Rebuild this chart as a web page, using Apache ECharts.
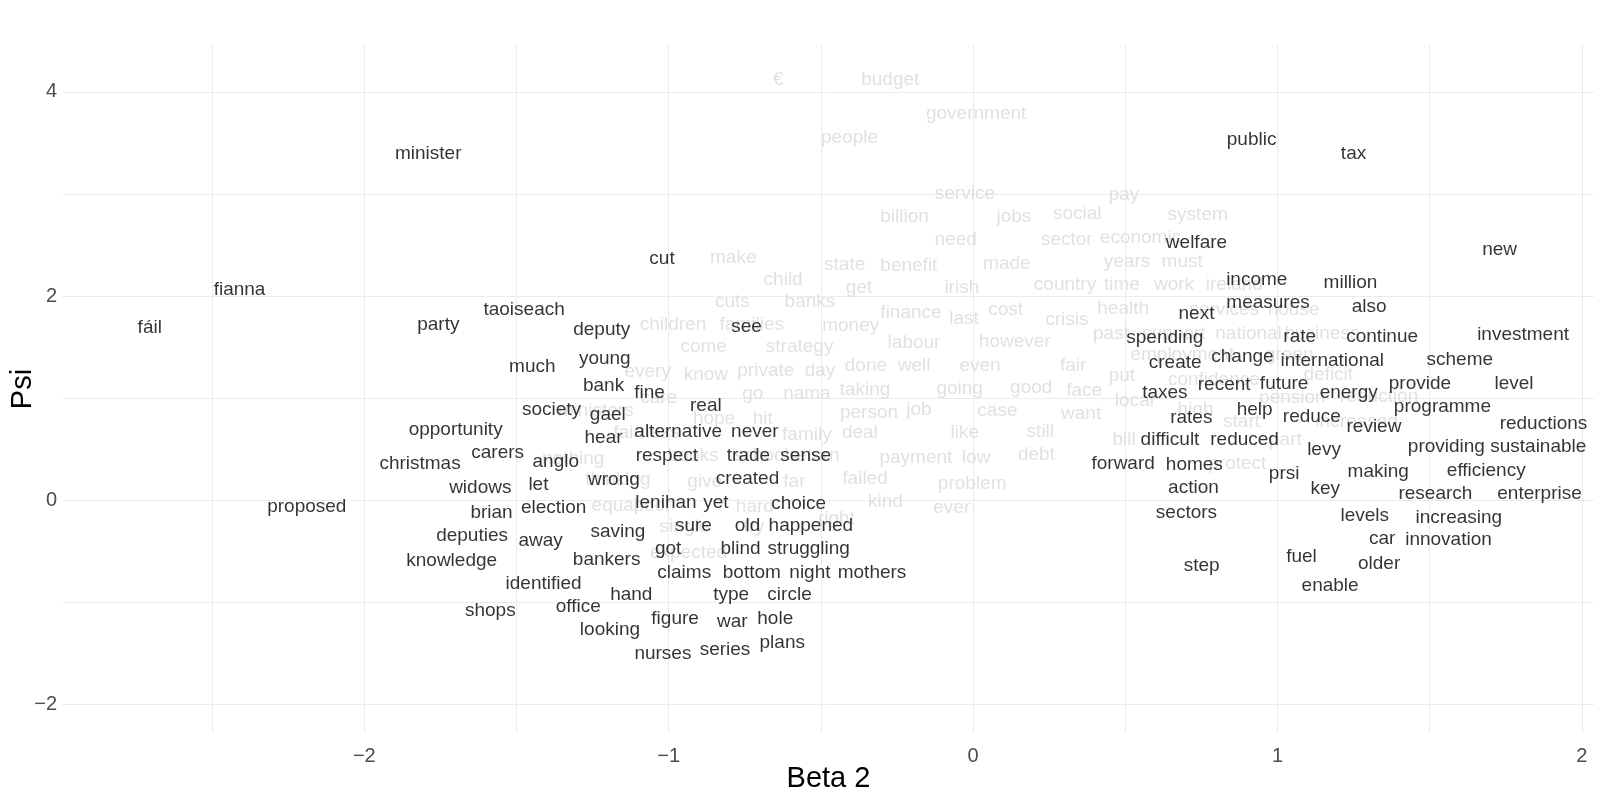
<!DOCTYPE html>
<html>
<head>
<meta charset="utf-8">
<script src="https://cdn.jsdelivr.net/npm/echarts@6/dist/echarts.min.js"></script>
<style>
  html, body { margin: 0; padding: 0; background: #fff; }
  #chart { width: 1600px; height: 800px; }
</style>
</head>
<body>
<div id="chart"></div>
<script type="text/javascript">
    // words shown in black (beta, psi)
    var blackWords = ['minister', 'fianna', 'fáil', 'party', 'taoiseach', 'cut', 'public', 'tax', 'new', 'welfare',
        'income', 'million', 'measures', 'also', 'next', 'spending', 'rate', 'continue', 'investment', 'change',
        'create', 'international', 'scheme', 'taxes', 'recent', 'future', 'energy', 'provide', 'level', 'help',
        'programme', 'rates', 'reduce', 'review', 'reductions', 'difficult', 'reduced', 'levy', 'providing', 'sustainable',
        'forward', 'homes', 'prsi', 'making', 'efficiency', 'action', 'key', 'research', 'enterprise', 'sectors',
        'levels', 'increasing', 'car', 'innovation', 'step', 'fuel', 'older', 'enable',
        'deputy', 'see', 'much', 'young', 'bank', 'fine', 'real', 'society', 'gael', 'opportunity',
        'hear', 'alternative', 'never', 'christmas', 'carers', 'anglo', 'respect', 'trade', 'sense', 'widows',
        'let', 'wrong', 'created', 'proposed', 'brian', 'election', 'lenihan', 'yet', 'choice', 'deputies',
        'away', 'saving', 'sure', 'old', 'happened', 'knowledge', 'bankers', 'got', 'blind', 'struggling',
        'identified', 'claims', 'bottom', 'night', 'mothers', 'hand', 'type', 'circle', 'shops', 'office',
        'figure', 'war', 'hole', 'looking', 'plans', 'nurses', 'series'];
    var blackBeta = [-1.790, -2.410, -2.705, -1.757, -1.475, -1.022, 0.915, 1.250, 1.730, 0.734,
        0.932, 1.240, 0.969, 1.301, 0.734, 0.630, 1.073, 1.344, 1.807, 0.885,
        0.664, 1.180, 1.599, 0.630, 0.825, 1.022, 1.234, 1.468, 1.777, 0.925,
        1.542, 0.717, 1.113, 1.317, 1.874, 0.647, 0.892, 1.153, 1.555, 1.857,
        0.493, 0.727, 1.022, 1.331, 1.686, 0.724, 1.157, 1.519, 1.861, 0.701,
        1.287, 1.596, 1.344, 1.562, 0.751, 1.079, 1.334, 1.173,
        -1.220, -0.744, -1.448, -1.210, -1.214, -1.063, -0.878, -1.385, -1.200, -1.700,
        -1.214, -0.969, -0.717, -1.817, -1.562, -1.371, -1.006, -0.738, -0.550, -1.619,
        -1.428, -1.180, -0.741, -2.189, -1.582, -1.378, -1.009, -0.845, -0.573, -1.646,
        -1.421, -1.167, -0.919, -0.741, -0.533, -1.713, -1.204, -1.002, -0.764, -0.540,
        -1.411, -0.949, -0.727, -0.536, -0.332, -1.123, -0.795, -0.603, -1.586, -1.297,
        -0.979, -0.791, -0.650, -1.193, -0.627, -1.019, -0.815];
    var blackPsi = [3.39, 2.06, 1.69, 1.72, 1.87, 2.37, 3.53, 3.39, 2.45, 2.52,
        2.16, 2.13, 1.93, 1.90, 1.83, 1.59, 1.60, 1.60, 1.62, 1.41,
        1.35, 1.37, 1.38, 1.05, 1.13, 1.14, 1.05, 1.14, 1.14, 0.89,
        0.92, 0.81, 0.82, 0.72, 0.75, 0.59, 0.59, 0.49, 0.52, 0.52,
        0.36, 0.35, 0.26, 0.28, 0.29, 0.12, 0.11, 0.06, 0.06, -0.12,
        -0.15, -0.17, -0.38, -0.39, -0.64, -0.55, -0.62, -0.84,
        1.67, 1.70, 1.31, 1.39, 1.12, 1.05, 0.93, 0.89, 0.84, 0.69,
        0.61, 0.67, 0.67, 0.36, 0.47, 0.38, 0.44, 0.44, 0.44, 0.12,
        0.15, 0.20, 0.21, -0.06, -0.12, -0.07, -0.02, -0.02, -0.03, -0.35,
        -0.40, -0.31, -0.25, -0.25, -0.25, -0.59, -0.58, -0.48, -0.48, -0.48,
        -0.82, -0.71, -0.71, -0.71, -0.71, -0.93, -0.93, -0.93, -1.08, -1.04,
        -1.16, -1.19, -1.16, -1.27, -1.40, -1.50, -1.46];

    // words shown in light grey
    var greyWords = ['€', 'budget', 'government', 'people', 'service', 'pay', 'billion', 'jobs', 'social', 'system',
        'need', 'sector', 'economic', 'make', 'state', 'benefit', 'made', 'years', 'must', 'child',
        'get', 'irish', 'country', 'time', 'work', 'ireland', 'cuts', 'banks', 'finance', 'last',
        'cost', 'crisis', 'health', 'services', 'house', 'children', 'families', 'money', 'come', 'strategy',
        'labour', 'however', 'past', 'support', 'national', 'business', 'every', 'know', 'private', 'day',
        'done', 'well', 'even', 'fair', 'employment', 'green', 'put', 'confidence', 'deficit', 'care',
        'go', 'nama', 'taking', 'going', 'good', 'face', 'local', 'pension', 'reduction', 'ministers',
        'hope', 'hit', 'person', 'job', 'case', 'want', 'high', 'start', 'increased', 'fairness',
        'family', 'deal', 'like', 'still', 'bill', 'part', 'nothing', 'books', 'schools', 'return',
        'thinking', 'give', 'far', 'failed', 'payment', 'low', 'debt', 'protect', 'problem', 'equal',
        'poor', 'hard', 'kind', 'ever', 'single', 'try', 'right', 'expected'];
    var greyBeta = [-0.640, -0.272, 0.010, -0.406, -0.027, 0.496, -0.225, 0.134, 0.342, 0.738,
        -0.057, 0.308, 0.550, -0.788, -0.422, -0.211, 0.111, 0.506, 0.687, -0.624,
        -0.375, -0.037, 0.302, 0.489, 0.660, 0.858, -0.791, -0.536, -0.204, -0.030,
        0.107, 0.308, 0.493, 0.825, 1.053, -0.986, -0.727, -0.402, -0.885, -0.570,
        -0.194, 0.137, 0.453, 0.660, 0.905, 1.146, -1.069, -0.878, -0.681, -0.503,
        -0.352, -0.194, 0.023, 0.329, 0.687, 1.039, 0.489, 0.791, 1.167, -1.033,
        -0.724, -0.546, -0.355, -0.044, 0.191, 0.365, 0.530, 1.049, 1.334, -1.240,
        -0.851, -0.691, -0.342, -0.178, 0.080, 0.355, 0.731, 0.882, 1.260, -1.073,
        -0.546, -0.372, -0.027, 0.221, 0.496, 1.026, -1.314, -0.920, -0.680, -0.520,
        -1.167, -0.882, -0.587, -0.355, -0.188, 0.010, 0.208, 0.868, -0.003, -1.177,
        -1.053, -0.717, -0.288, -0.070, -0.949, -0.720, -0.449, -0.935];
    var greyPsi = [4.12, 4.12, 3.79, 3.55, 3.00, 2.99, 2.78, 2.78, 2.81, 2.80,
        2.55, 2.55, 2.57, 2.38, 2.31, 2.30, 2.32, 2.34, 2.34, 2.16,
        2.08, 2.08, 2.11, 2.11, 2.11, 2.11, 1.94, 1.94, 1.84, 1.78,
        1.87, 1.77, 1.88, 1.87, 1.87, 1.72, 1.72, 1.71, 1.50, 1.50,
        1.54, 1.55, 1.63, 1.63, 1.63, 1.63, 1.26, 1.23, 1.27, 1.27,
        1.32, 1.32, 1.32, 1.32, 1.43, 1.43, 1.22, 1.18, 1.23, 1.00,
        1.04, 1.04, 1.08, 1.09, 1.10, 1.07, 0.97, 1.00, 1.01, 0.88,
        0.80, 0.80, 0.86, 0.89, 0.88, 0.85, 0.89, 0.77, 0.77, 0.66,
        0.64, 0.66, 0.66, 0.67, 0.59, 0.59, 0.41, 0.44, 0.44, 0.44,
        0.20, 0.18, 0.18, 0.21, 0.42, 0.42, 0.45, 0.36, 0.16, -0.05,
        -0.05, -0.06, -0.01, -0.07, -0.26, -0.26, -0.18, -0.51];

    function toPoints(words, xs, ys) {
        return words.map(function (w, i) {
            return {name: w, value: [xs[i], ys[i]]};
        });
    }

    function tickText(v) {
        var r = Math.round(v * 1000) / 1000;
        if (Math.abs(r - Math.round(r)) > 1e-9) return '';
        return r < 0 ? '\u2212' + Math.abs(r) : String(r);
    }

    var chart = echarts.init(document.getElementById('chart'));
    var fontName = '"Liberation Sans", Arial, sans-serif';
    var gridColor = '#ebebeb';

    var option = {
        animation: false,
        backgroundColor: '#ffffff',
        grid: {left: 63, right: 6, top: 45, bottom: 67, containLabel: false, outerBoundsMode: 'none'},
        xAxis: {
            type: 'value',
            min: -2.99,
            max: 2.04,
            minInterval: 0.5,
            maxInterval: 0.5,
            name: 'Beta 2',
            nameLocation: 'middle',
            nameGap: 31,
            nameMoveOverlap: false,
            nameTextStyle: {color: '#000', fontSize: 29, fontFamily: fontName},
            axisLine: {show: false},
            axisTick: {show: false},
            axisLabel: {
                color: '#4d4d4d', fontSize: 20, fontFamily: fontName, margin: 13,
                showMinLabel: false, showMaxLabel: false,
                formatter: tickText
            },
            splitLine: {show: true, showMinLine: false, showMaxLine: false, lineStyle: {color: gridColor, width: 1}}
        },
        yAxis: {
            type: 'value',
            min: -2.28,
            max: 4.46,
            minInterval: 1,
            maxInterval: 1,
            name: 'Psi',
            nameLocation: 'middle',
            nameGap: 26,
            nameRotate: 90,
            nameMoveOverlap: false,
            nameTextStyle: {color: '#000', fontSize: 29, fontFamily: fontName},
            axisLine: {show: false},
            axisTick: {show: false},
            axisLabel: {
                color: '#4d4d4d', fontSize: 20, fontFamily: fontName, margin: 6,
                showMinLabel: false, showMaxLabel: false,
                formatter: function (v) {
                    var r = Math.round(v * 1000) / 1000;
                    if (Math.abs(r % 2) > 1e-9) return '';
                    return tickText(r);
                }
            },
            splitLine: {show: true, showMinLine: false, showMaxLine: false, lineStyle: {color: gridColor, width: 1}}
        },
        series: [
            {
                name: 'grey',
                type: 'scatter',
                symbolSize: 0,
                silent: true,
                z: 2,
                label: {
                    show: true, position: 'inside', formatter: '{b}',
                    color: '#d9d9d9', fontSize: 19, fontFamily: fontName
                },
                data: toPoints(greyWords, greyBeta, greyPsi)
            },
            {
                name: 'black',
                type: 'scatter',
                symbolSize: 0,
                silent: true,
                z: 3,
                label: {
                    show: true, position: 'inside', formatter: '{b}',
                    color: '#000000', fontSize: 19, fontFamily: fontName
                },
                data: toPoints(blackWords, blackBeta, blackPsi)
            }
        ]
    };
    chart.setOption(option);
</script>
</body>
</html>
